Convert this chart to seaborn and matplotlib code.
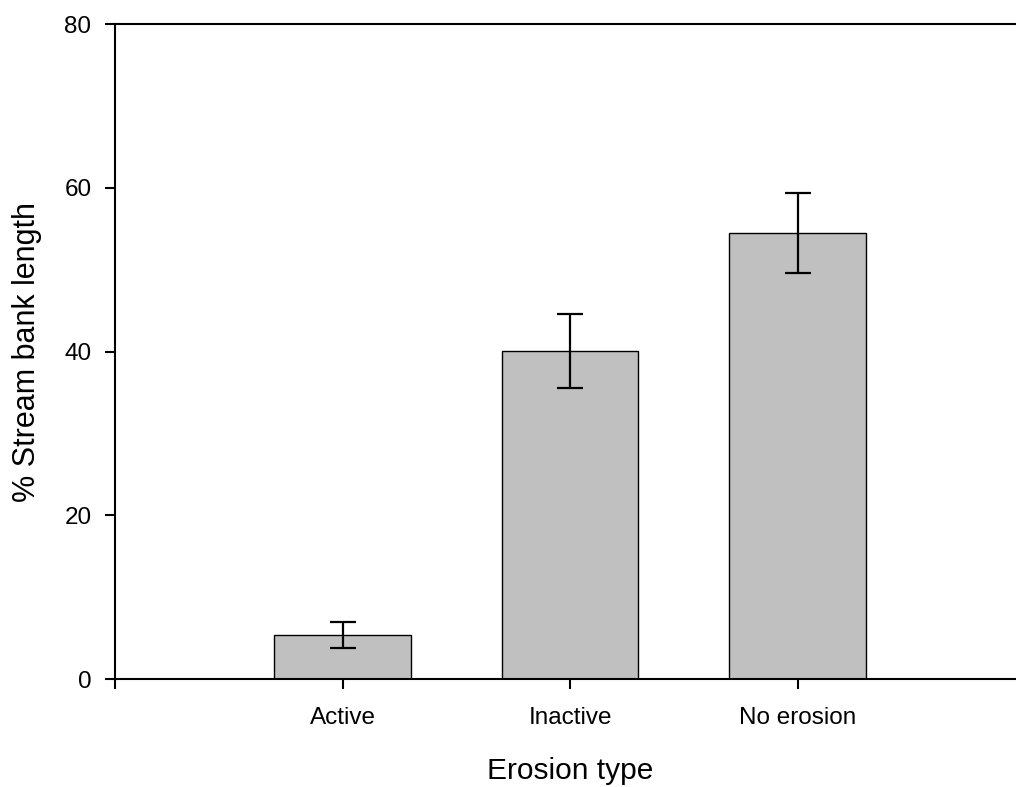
import matplotlib
matplotlib.use("Agg")
import matplotlib.pyplot as plt
import seaborn as sns
import pandas as pd

# Stream bank erosion survey: mean share of bank length per erosion class
categories = ["Active", "Inactive", "No erosion"]
percent_length = [5.4, 40.1, 54.5]
std_error = [1.6, 4.5, 4.9]
y_ticks = [0, 20, 40, 60, 80]

sns.set_theme(style="white")
plt.rcParams["font.family"] = ["Liberation Sans", "DejaVu Sans"]
plt.rcParams["text.color"] = "black"
plt.rcParams["axes.labelcolor"] = "black"

df = pd.DataFrame({"Erosion type": categories, "Percent": percent_length})

fig = plt.figure(figsize=(10.16, 7.87), dpi=100)
ax = fig.add_axes([0.1132, 0.1372, 0.896, 0.8323])

sns.barplot(data=df, x="Erosion type", y="Percent", order=categories,
            color="#c0c0c0", width=0.6, edgecolor="black", linewidth=1.0,
            errorbar=None, ax=ax, saturation=1)
ax.errorbar(range(len(categories)), percent_length, yerr=std_error,
            fmt="none", ecolor="black", elinewidth=1.6, capsize=9.5,
            capthick=1.6)

ax.set_xlim(-1, 3)
ax.set_ylim(0, 80)
ax.set_yticks(y_ticks)
ax.set_xticks([-1, 0, 1, 2])
ax.set_xticklabels([""] + categories)

for side in ["left", "top", "bottom"]:
    ax.spines[side].set_visible(True)
    ax.spines[side].set_color("black")
    ax.spines[side].set_linewidth(1.5)
ax.spines["right"].set_visible(False)

ax.tick_params(axis="both", direction="out", length=7, width=1.5,
               colors="black", labelsize=17.5)
ax.tick_params(axis="y", pad=10)
ax.tick_params(axis="x", pad=13.5)
ax.tick_params(left=True, bottom=True)

ax.set_xlabel("Erosion type", fontsize=21.5, labelpad=20)
ax.set_ylabel("% Stream bank length", fontsize=22, labelpad=16)

fig.savefig("out.png", dpi=100)
